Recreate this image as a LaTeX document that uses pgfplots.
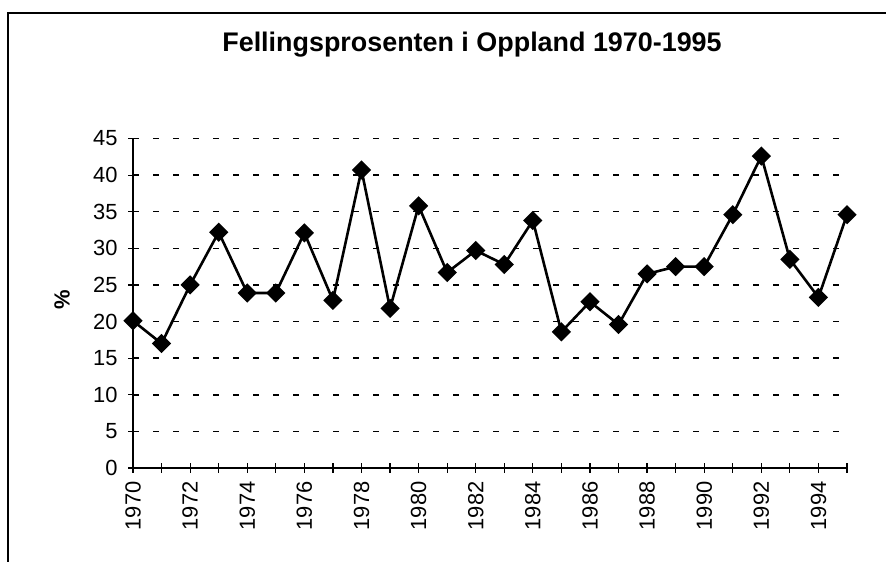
\documentclass[border=0pt]{standalone}
\usepackage{fontspec}
\setmainfont{Liberation Sans}
\usepackage{pgfplots}
\pgfplotsset{compat=1.18}
\begin{document}
\begin{tikzpicture}[x=1bp,y=1bp]
\useasboundingbox (0,0) rectangle (886,562);
\draw[line width=1.5bp] (8,0) -- (8,549) -- (886,549);
\node[font=\bfseries\fontsize{27}{32}\selectfont] at (472,517) {Fellingsprosenten i Oppland 1970-1995};
\begin{axis}[
  at={(133bp,94bp)}, anchor=south west,
  scale only axis, width=714bp, height=329.5bp,
  xmin=1970, xmax=1995, ymin=0, ymax=45,
  axis x line*=bottom, axis y line*=left,
  axis line style={line width=1.5bp, black},
  xtick={1970,1971,...,1995},
  xticklabels={1970,,1972,,1974,,1976,,1978,,1980,,1982,,1984,,1986,,1988,,1990,,1992,,1994,},
  ytick={0,5,...,45},
  tick align=center, major tick length=10bp,
  tick style={line width=1.2bp, black},
  /pgf/number format/assume math mode=true,
  tick label style={font=\fontsize{22}{26}\selectfont},
  xticklabel style={rotate=90, anchor=east},
  xticklabel shift=5bp,
  yticklabel shift=7bp,
  ymajorgrids,
  major grid style={line width=1.5bp, black, dash pattern=on 6bp off 14bp},
  ylabel={\%},
  ylabel style={font=\bfseries\fontsize{22}{26}\selectfont, at={(axis description cs:-0.0994,0.51)}, anchor=center},
  clip=false,
]
\addplot[black, line width=2.6bp, mark=square*, mark size=5.5bp, mark options={rotate=45, solid}] coordinates {
(1970,20.1) (1971,17.0) (1972,25.0) (1973,32.2) (1974,23.9) (1975,23.9)
(1976,32.1) (1977,22.9) (1978,40.7) (1979,21.8) (1980,35.8) (1981,26.7)
(1982,29.7) (1983,27.8) (1984,33.8) (1985,18.6) (1986,22.7) (1987,19.6)
(1988,26.5) (1989,27.5) (1990,27.5) (1991,34.6) (1992,42.6) (1993,28.5)
(1994,23.3) (1995,34.6)
};
\end{axis}
\end{tikzpicture}
\end{document}
